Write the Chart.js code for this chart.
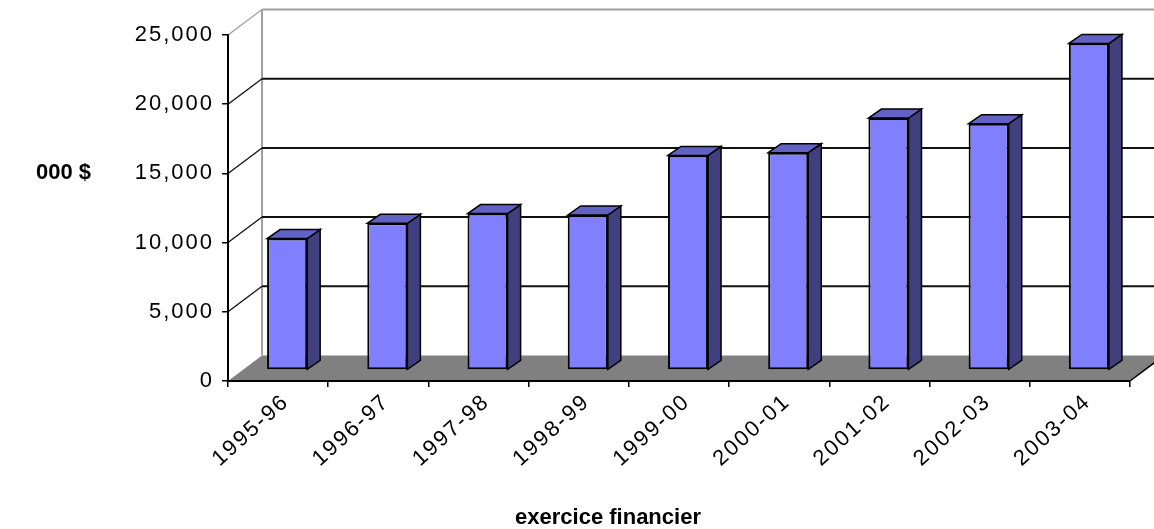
<!DOCTYPE html>
<html>
<head>
<meta charset="utf-8">
<script src="https://cdn.jsdelivr.net/npm/chart.js@4.4.1/dist/chart.umd.min.js"></script>
<style>
  html, body { margin: 0; padding: 0; background: #fff; }
  canvas { display: block; }
</style>
</head>
<body>
<canvas id="depenses" width="1154" height="529"></canvas>
<script>
const exercices = ["1995-96", "1996-97", "1997-98", "1998-99", "1999-00", "2000-01", "2001-02", "2002-03", "2003-04"];
const montants = [9500, 10600, 11300, 11200, 15500, 15700, 18200, 17800, 23600];
const yMin = 0;
const yMax = 25000;
const yStep = 5000;

// depth of the box (front plane -> back wall) and where the bars sit inside it
const depth = { x: 34, y: -25.5 };
const barShift = { x: 9, y: -11 };
const barDepth = { x: 13, y: -9 };

const tickFont = { family: "'Liberation Sans', Arial, sans-serif", size: 22 };
const titleFont = "bold 22px 'Liberation Sans', Arial, sans-serif";
const spacing = "2px";

function line(ctx, x1, y1, x2, y2) {
  ctx.beginPath();
  ctx.moveTo(x1, y1);
  ctx.lineTo(x2, y2);
  ctx.stroke();
}

function poly(ctx, pts, fill) {
  ctx.beginPath();
  ctx.moveTo(pts[0][0], pts[0][1]);
  for (let i = 1; i < pts.length; i++) ctx.lineTo(pts[i][0], pts[i][1]);
  ctx.closePath();
  ctx.fillStyle = fill;
  ctx.fill();
  ctx.stroke();
}

const box3d = {
  id: "box3d",
  beforeLayout(chart) {
    chart.ctx.letterSpacing = spacing;
  },
  beforeDraw(chart) {
    const { ctx, chartArea: a, scales: { y } } = chart;
    ctx.letterSpacing = spacing;
    const y0 = y.getPixelForValue(yMin);
    const yTop = y.getPixelForValue(yMax);
    ctx.save();

    // floor
    ctx.fillStyle = "#808080";
    ctx.beginPath();
    ctx.moveTo(a.left, y0);
    ctx.lineTo(a.right, y0);
    ctx.lineTo(a.right + depth.x, y0 + depth.y);
    ctx.lineTo(a.left + depth.x, y0 + depth.y);
    ctx.closePath();
    ctx.fill();
    ctx.strokeStyle = "#000";
    ctx.lineWidth = 1.5;
    line(ctx, a.right, y0, a.right + depth.x, y0 + depth.y);

    // back wall edge
    ctx.strokeStyle = "#a0a0a0";
    ctx.lineWidth = 2;
    line(ctx, a.left + depth.x, yTop + depth.y, a.left + depth.x, y0 + depth.y);

    // gridlines on the back wall and the left side
    y.ticks.forEach(t => {
      if (t.value === yMin) return;
      const py = y.getPixelForValue(t.value);
      ctx.strokeStyle = t.value === yMax ? "#a0a0a0" : "#111";
      ctx.lineWidth = t.value === yMax ? 2 : 2;
      line(ctx, a.left + depth.x, py + depth.y, a.right + depth.x + 40, py + depth.y);
      ctx.lineWidth = 1.3;
      line(ctx, a.left, py, a.left + depth.x, py + depth.y);
    });
    ctx.restore();
  },
  beforeDatasetsDraw(chart) {
    chart.ctx.save();
    chart.ctx.translate(barShift.x, barShift.y);
  },
  afterDatasetsDraw(chart) {
    const ctx = chart.ctx;
    ctx.strokeStyle = "#000";
    ctx.lineWidth = 1.5;
    ctx.lineJoin = "miter";
    chart.getDatasetMeta(0).data.forEach(bar => {
      const { x, y, base, width } = bar.getProps(["x", "y", "base", "width"], true);
      const l = x - width / 2;
      const r = x + width / 2;
      poly(ctx, [[r, y], [r + barDepth.x, y + barDepth.y], [r + barDepth.x, base + barDepth.y], [r, base]], "#40407f");
      poly(ctx, [[l, y], [l + barDepth.x, y + barDepth.y], [r + barDepth.x, y + barDepth.y], [r, y]], "#6262c4");
    });
    ctx.restore();
  },
  afterDraw(chart) {
    const ctx = chart.ctx;
    ctx.save();
    ctx.letterSpacing = "0px";
    ctx.font = titleFont;
    ctx.fillStyle = "#000";
    ctx.textBaseline = "middle";
    ctx.textAlign = "left";
    ctx.fillText("000 $", 36, 173);
    ctx.textAlign = "center";
    ctx.fillText("exercice financier", 608, 518);
    ctx.restore();
  }
};

new Chart(document.getElementById("depenses"), {
  type: "bar",
  data: {
    labels: exercices,
    datasets: [{
      data: montants,
      backgroundColor: "#8080ff",
      borderColor: "#000",
      borderWidth: 2,
      borderSkipped: false,
      barPercentage: 0.4,
      categoryPercentage: 1
    }]
  },
  options: {
    responsive: false,
    animation: false,
    devicePixelRatio: 1,
    locale: "en-US",
    layout: { padding: { top: 35, right: 24, left: 0, bottom: 0 } },
    plugins: { legend: { display: false }, tooltip: { enabled: false } },
    scales: {
      x: {
        grid: { drawOnChartArea: false, color: "#000", lineWidth: 1.5, tickLength: 6 },
        border: { color: "#000", width: 2 },
        ticks: {
          font: tickFont, color: "#000", minRotation: 42, maxRotation: 42,
          autoSkip: false, labelOffset: 8, padding: 2
        },
        afterFit(s) { s.height = 148; }
      },
      y: {
        min: yMin,
        max: yMax,
        grid: { drawOnChartArea: false, color: "#000", lineWidth: 1.5, tickLength: 6 },
        border: { color: "#000", width: 2 },
        ticks: { stepSize: yStep, font: tickFont, color: "#000", padding: 8 },
        afterFit(s) { s.width = 228; }
      }
    }
  },
  plugins: [box3d]
});
</script>
</body>
</html>
